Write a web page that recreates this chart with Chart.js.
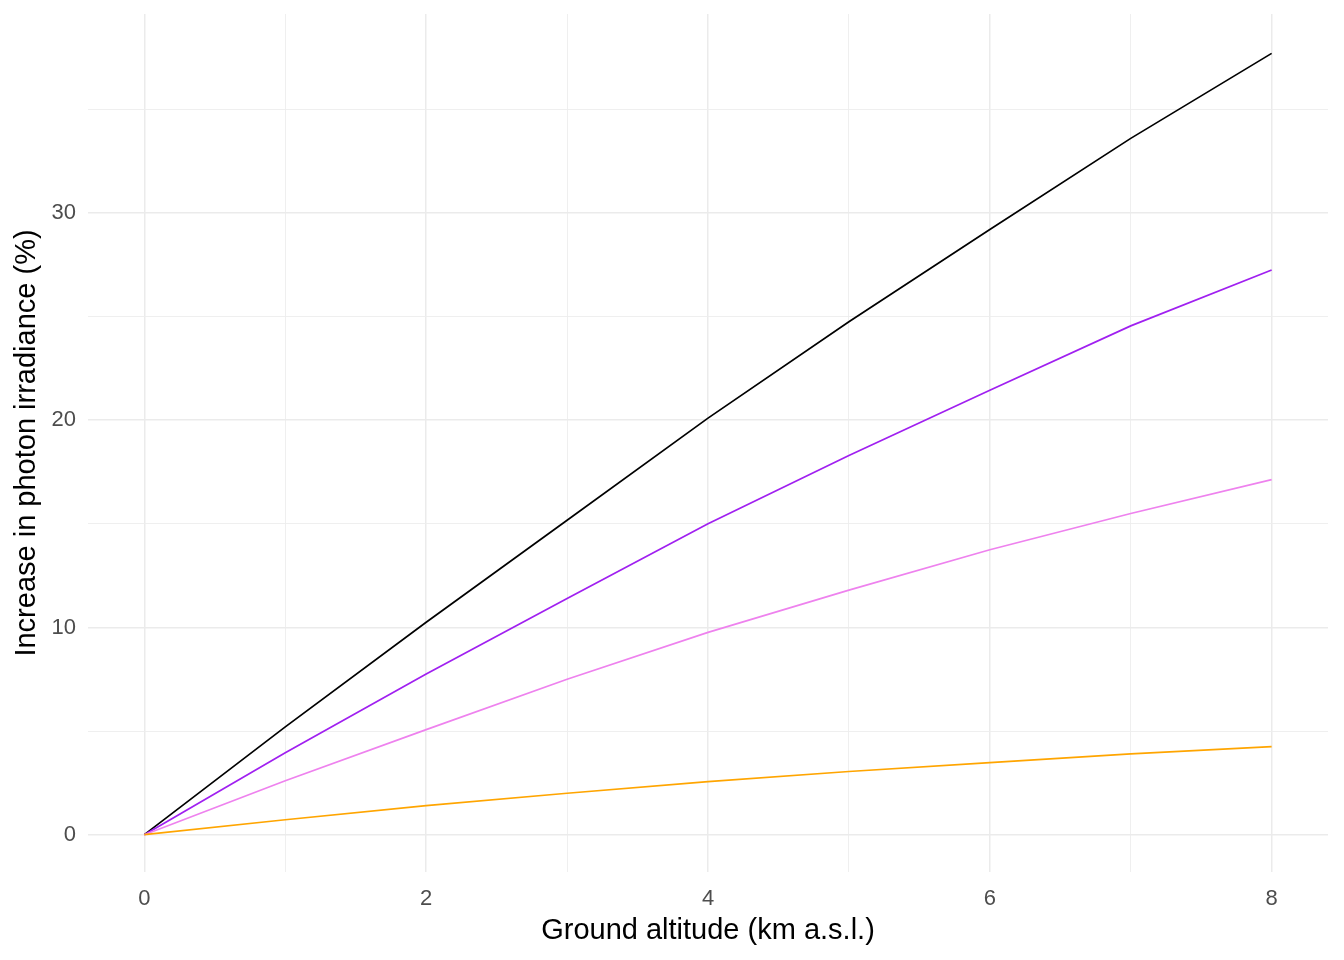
<!DOCTYPE html>
<html>
<head>
<meta charset="utf-8">
<script src="https://cdn.jsdelivr.net/npm/chart.js@4"></script>
<style>
  html, body { margin: 0; padding: 0; background: #fff; }
  #wrap { width: 1344px; height: 960px; }
</style>
</head>
<body>
<div id="wrap"><canvas id="irrChart" width="1344" height="960"></canvas></div>
<script>
// ====== Data ======
const altitude = [0, 1, 2, 3, 4, 5, 6, 7, 8];
const seriesBlack = [0, 5.2, 10.25, 15.17, 20.1, 24.75, 29.2, 33.6, 37.7];
const seriesPurple = [0, 3.95, 7.75, 11.4, 15.0, 18.3, 21.45, 24.55, 27.25];
const seriesViolet = [0, 2.6, 5.07, 7.5, 9.76, 11.8, 13.75, 15.5, 17.13];
const seriesOrange = [0, 0.72, 1.4, 2.0, 2.56, 3.05, 3.48, 3.9, 4.25];
const xTicks = [0, 1, 2, 3, 4, 5, 6, 7, 8];
const yTicks = [0, 5, 10, 15, 20, 25, 30, 35];

const toPoints = (ys) => altitude.map((x, i) => ({ x: x, y: ys[i] }));
const line = (ys, color) => ({
  data: toPoints(ys),
  borderColor: color,
  borderWidth: 1.7,
  pointRadius: 0,
  fill: false,
  tension: 0
});

// no extra label padding, so the plot panel sits where the layout says
const noPad = (s) => {
  s.paddingTop = 0; s.paddingBottom = 0;
  s.paddingLeft = 0; s.paddingRight = 0;
};

// ====== Chart.js ======
const ctx = document.getElementById("irrChart").getContext("2d");

new Chart(ctx, {
  type: "line",
  data: {
    datasets: [
      line(seriesOrange, "#FFA500"),
      line(seriesViolet, "#EE82EE"),
      line(seriesPurple, "#A020F0"),
      line(seriesBlack, "#000000")
    ]
  },
  options: {
    responsive: false,
    animation: false,
    layout: { padding: { top: 14, right: 16, left: 0, bottom: 0 } },
    plugins: { legend: { display: false }, tooltip: { enabled: false } },
    scales: {
      x: {
        type: "linear",
        min: -0.4,
        max: 8.4,
        afterBuildTicks: (s) => { s.ticks = xTicks.map(v => ({ value: v })); },
        afterFit: (s) => { s.height = 88; noPad(s); },
        border: { display: false },
        grid: {
          drawTicks: false,
          color: (c) => c.tick && c.tick.value % 2 === 0 ? "#EBEBEB" : "#EDEDED",
          lineWidth: (c) => c.tick && c.tick.value % 2 === 0 ? 1.5 : 0.9
        },
        ticks: {
          padding: 14,
          color: "#4D4D4D",
          font: { family: "Liberation Sans", size: 22 },
          callback: (v) => v % 2 === 0 ? v : ""
        },
        title: {
          display: true,
          text: "Ground altitude (km a.s.l.)",
          color: "#000",
          font: { family: "Liberation Sans", size: 29 },
          padding: { top: 4, bottom: 12 }
        }
      },
      y: {
        type: "linear",
        min: -1.8,
        max: 39.6,
        afterBuildTicks: (s) => { s.ticks = yTicks.map(v => ({ value: v })); },
        afterFit: (s) => { s.width = 88; noPad(s); },
        border: { display: false },
        grid: {
          drawTicks: false,
          color: (c) => c.tick && c.tick.value % 10 === 0 ? "#EBEBEB" : "#EDEDED",
          lineWidth: (c) => c.tick && c.tick.value % 10 === 0 ? 1.5 : 0.9
        },
        ticks: {
          padding: 12,
          color: "#4D4D4D",
          font: { family: "Liberation Sans", size: 22 },
          callback: (v) => v % 10 === 0 ? v : ""
        },
        title: {
          display: true,
          text: "Increase in photon irradiance (%)",
          color: "#000",
          font: { family: "Liberation Sans", size: 29 },
          padding: { top: 10, bottom: 4 }
        }
      }
    }
  }
});
</script>
</body>
</html>
